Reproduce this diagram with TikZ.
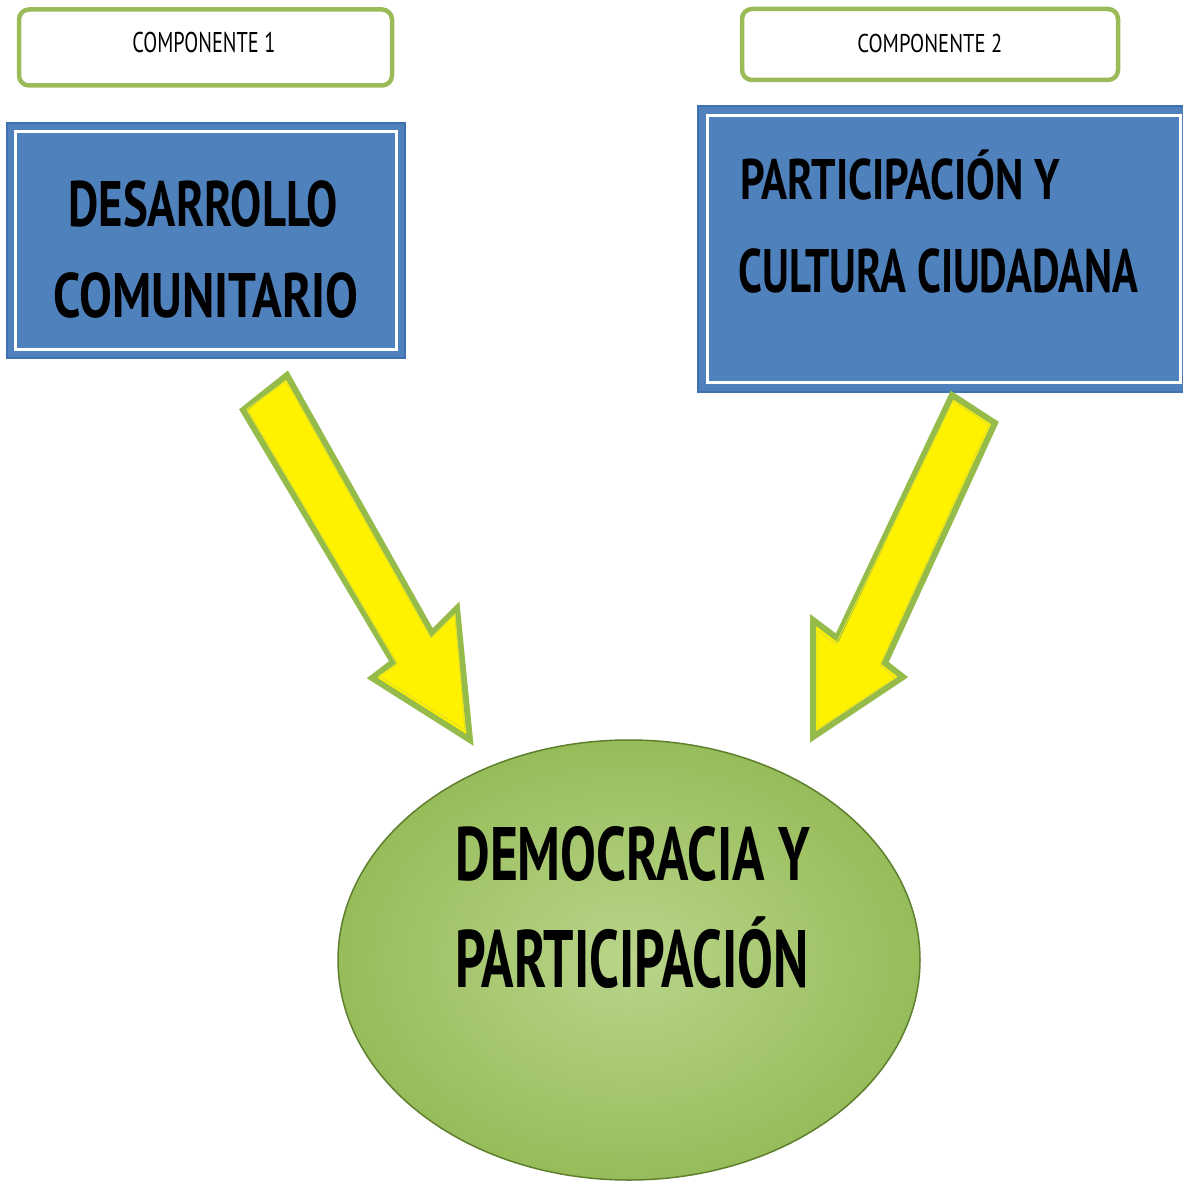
\documentclass[tikz,border=0pt]{standalone}
\usepackage{fontspec}
\usepackage{graphicx}
\setmainfont{PT Sans}
\usetikzlibrary{shapes.geometric,shadings}
\newlength\mypx
\setlength\mypx{0.02cm}
\newcommand\fitt[3]{\resizebox{#1\mypx}{#2\mypx}{\vphantom{H}\smash{#3}}}
\definecolor{olivegreen}{HTML}{9BBB59}
\definecolor{boxblue}{HTML}{4F81BD}
\definecolor{boxblueedge}{HTML}{3F70B0}
\definecolor{arrowgreen}{HTML}{95BB4A}
\definecolor{ellin}{HTML}{B9D58A}
\definecolor{ellout}{HTML}{97BC5A}
\definecolor{elledge}{HTML}{5F7F2E}
\tikzset{
  compbox/.style={draw=olivegreen, line width=4.5\mypx, fill=white, rounded corners=10\mypx, inner sep=0},
  bluebox/.style={draw=boxblueedge, line width=1.5\mypx, fill=boxblue, inner sep=0},
  innerline/.style={draw=white, line width=3\mypx},
  bigarrow/.style={draw=arrowgreen, line width=6\mypx, fill=yellow, line join=miter},
  arrowinner/.style={draw=yellow!70!arrowgreen, line width=1\mypx},
  label/.style={inner sep=0, anchor=base west, text=black},
}
\begin{document}
\begin{tikzpicture}[x=0.02cm, y=-0.02cm]
\useasboundingbox (0,0) rectangle (1183,1182);
\fill[white] (0,0) rectangle (1183,1182);
\begin{scope}
\clip (0,0) rectangle (1183,1182);
% component boxes
\node[compbox, minimum width=373\mypx, minimum height=76\mypx] (c1) at (205.5,47.5) {};
\node[compbox, minimum width=376\mypx, minimum height=71\mypx] (c2) at (930,44.5) {};
\node[label] (c1t) at (132,53) {\fitt{143}{20}{COMPONENTE 1}};
\node[label] (c2t) at (857,53) {\fitt{145}{18}{COMPONENTE 2}};
% blue boxes
\node[bluebox, minimum width=398\mypx, minimum height=235\mypx] (b1) at (206,240.5) {};
\draw[innerline] ([shift={(9,9)}]b1.north west) rectangle ([shift={(-9,-9)}]b1.south east);
\node[bluebox, minimum width=492\mypx, minimum height=286\mypx] (b2) at (944,249) {};
\draw[innerline] ([shift={(10,10)}]b2.north west) rectangle ([shift={(-10,-10)}]b2.south east);
\node[label] (b1t1) at (68,227) {\fitt{269}{45}{\bfseries DESARROLLO}};
\node[label] (b1t2) at (53,317) {\fitt{305}{44}{\bfseries COMUNITARIO}};
\node[label] (b2t1) at (740,200) {\fitt{320}{40}{\bfseries PARTICIPACIÓN Y}};
\node[label] (b2t2) at (738,293) {\fitt{400}{43}{\bfseries CULTURA CIUDADANA}};
% ellipse
\node[ellipse, draw=elledge, line width=1.5\mypx, inner color=ellin, outer color=ellout,
      minimum width=582\mypx, minimum height=440\mypx, inner sep=0] (e) at (629,960) {};
\node[label] (et1) at (455,880) {\fitt{355}{53}{\bfseries DEMOCRACIA Y}};
\node[label] (et2) at (455,987) {\fitt{353}{57}{\bfseries PARTICIPACIÓN}};
% arrows
\coordinate (a1tip) at (470,740);
\coordinate (a2tip) at (813,737);
\draw[bigarrow] (243,410) -- (393,662) -- (372,678) -- (a1tip) -- (457,608) -- (432,633) -- (287,375) -- cycle;
\draw[arrowinner] (247,409) -- (397,664) -- (379,676) -- (465,730) -- (455,614) -- (431,638) -- (286,381) -- cycle;
\draw[bigarrow] (952,395) -- (837,638) -- (813,620) -- (a2tip) -- (903,677) -- (885,663) -- (995,423) -- cycle;
\draw[arrowinner] (953,401) -- (836,644) -- (818,631) -- (818,729) -- (895,678) -- (880,665) -- (989,425) -- cycle;
\end{scope}
\end{tikzpicture}
\end{document}
